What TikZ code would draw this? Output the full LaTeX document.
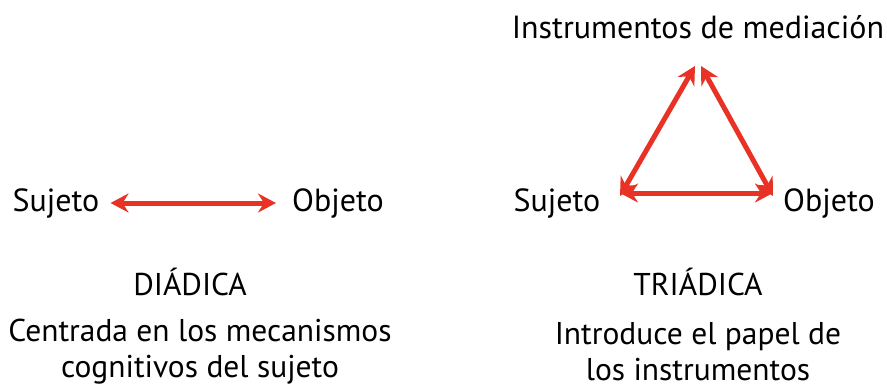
\documentclass[tikz,border=0pt]{standalone}
\usepackage{fontspec}
\setmainfont{PT Sans}
\usetikzlibrary{arrows.meta,positioning}
\definecolor{arrowred}{RGB}{232,50,38}
\begin{document}
\begin{tikzpicture}[x=1pt,y=-1pt,
    label/.style={font=\fontsize{32}{34}\selectfont, inner sep=2pt},
    caption/.style={font=\fontsize{31.5}{36}\selectfont, align=center, inner sep=0pt},
    link/.style={draw=arrowred, line width=5pt,
      {Stealth[length=18pt,width=19pt,inset=6pt]}-{Stealth[length=18pt,width=19pt,inset=6pt]}}
  ]
  \useasboundingbox (0,0) rectangle (887,389);
  % diadica
  \node[label] (suj1) at (56,203) {Sujeto};
  \node[label] (obj1) at (338,203) {Objeto};
  \draw[link, shorten <=9pt, shorten >=14pt] (suj1.east) -- (obj1.west);
  \node[caption] (dia) at (190,282) {DIÁDICA};
  \node[caption] (diatext) at (200,352) {Centrada en los mecanismos\\cognitivos del sujeto};
  % triadica
  \node[label] (inst) at (698,27) {Instrumentos de mediación};
  \node[label] (suj2) at (557,203) {Sujeto};
  \node[label] (obj2) at (829,203) {Objeto};
  \coordinate (top) at (698,66);
  \coordinate (left) at (620,196);
  \coordinate (right) at (773,196);
  \draw[link] ([xshift=-3pt]top) -- (left);
  \draw[link] ([xshift=3pt]top) -- (right);
  \draw[link] ([yshift=3pt]left) -- ([yshift=3pt]right);
  \node[caption] (tri) at (698,282) {TRIÁDICA};
  \node[caption] (tritext) at (698,352) {Introduce el papel de\\los instrumentos};
\end{tikzpicture}
\end{document}
